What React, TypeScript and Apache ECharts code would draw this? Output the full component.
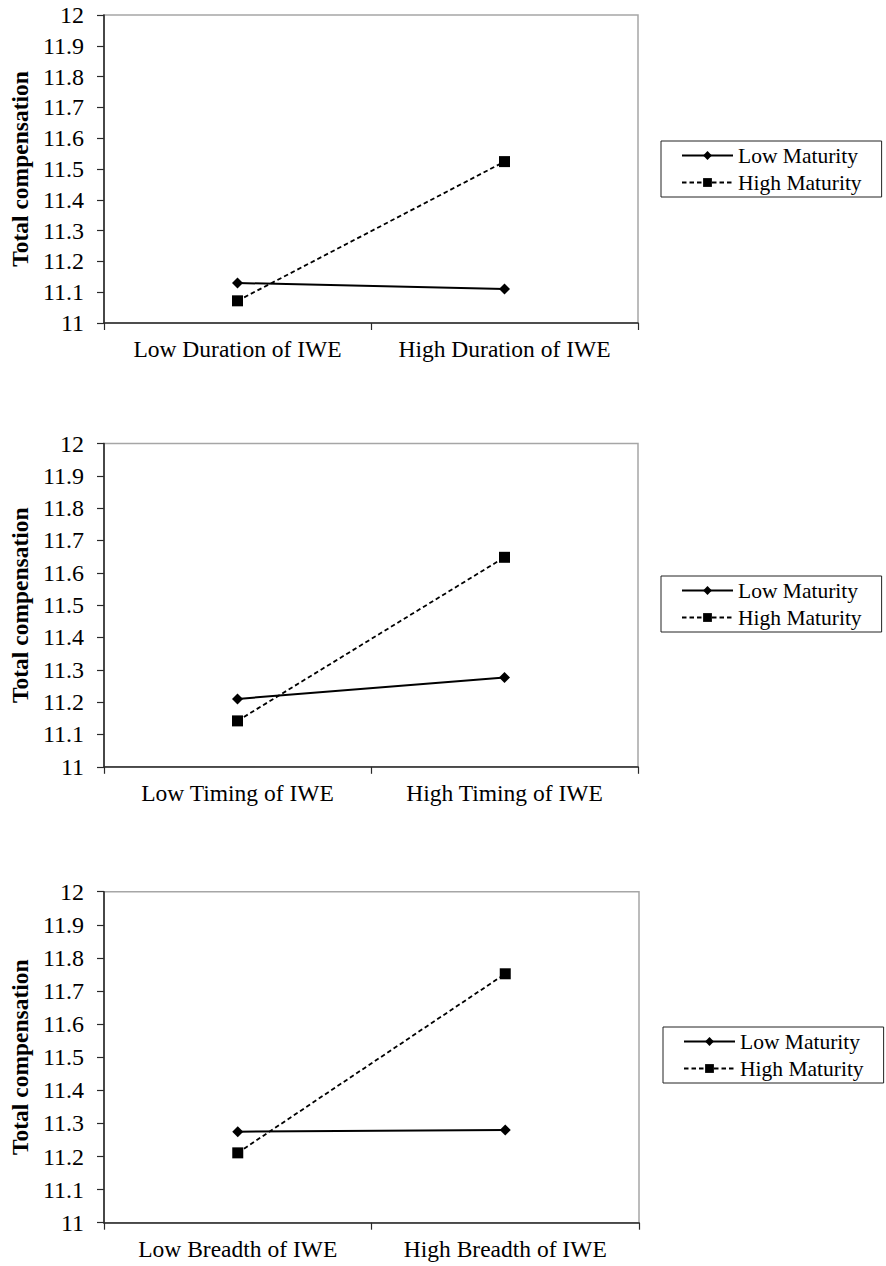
import React, { useEffect, useRef } from "react";
import * as echarts from "echarts";

const categoriesDuration = ["Low Duration of IWE", "High Duration of IWE"];
const categoriesTiming = ["Low Timing of IWE", "High Timing of IWE"];
const categoriesBreadth = ["Low Breadth of IWE", "High Breadth of IWE"];

const lowMaturityDuration = [11.13, 11.11];
const highMaturityDuration = [11.072, 11.524];
const lowMaturityTiming = [11.21, 11.276];
const highMaturityTiming = [11.142, 11.648];
const lowMaturityBreadth = [11.275, 11.28];
const highMaturityBreadth = [11.211, 11.752];

const yMin = 11;
const yMax = 12;
const yInterval = 0.1;
const yTitle = "Total compensation";
const seriesNames = ["Low Maturity", "High Maturity"];

const panels = [
  { cats: categoriesDuration, low: lowMaturityDuration, high: highMaturityDuration },
  { cats: categoriesTiming, low: lowMaturityTiming, high: highMaturityTiming },
  { cats: categoriesBreadth, low: lowMaturityBreadth, high: highMaturityBreadth },
];

const gridBoxes = [
  { left: 97, top: 15, width: 541, height: 308 },
  { left: 96, top: 443.5, width: 542, height: 323.3 },
  { left: 96, top: 891.7, width: 543, height: 331 },
];
const legendBoxes = [
  { left: 661, top: 141 },
  { left: 661, top: 576 },
  { left: 663, top: 1027 },
];

const FONT = "Liberation Serif";

export default function App() {
  const ref = useRef<HTMLDivElement>(null);
  useEffect(() => {
    if (!ref.current) return;
    const chart = echarts.init(ref.current, null, { renderer: "svg" });
    const axisColor = "#2a2a2a";
    const option: any = {
      animation: false,
      backgroundColor: "#fff",
      textStyle: { fontFamily: FONT },
      grid: gridBoxes.map((g) => ({
        ...g,
        show: true,
        borderColor: "#a6a6a6",
        borderWidth: 1.5,
        backgroundColor: "transparent",
      })),
      legend: legendBoxes.map((l) => ({
        ...l,
        orient: "vertical",
        data: seriesNames,
        itemWidth: 51,
        itemHeight: 11,
        itemGap: 5,
        padding: [3.5, 20, 3.5, 20],
        borderColor: "#222",
        borderWidth: 1,
        backgroundColor: "#fff",
        selectedMode: false,
        textStyle: { fontFamily: FONT, fontSize: 21.5, color: "#000", lineHeight: 22 },
      })),
      xAxis: panels.map((p, i) => ({
        type: "category",
        gridIndex: i,
        data: p.cats,
        boundaryGap: true,
        axisLine: { show: true, lineStyle: { color: axisColor, width: 1.6 } },
        axisTick: { show: true, length: 7, alignWithLabel: false, lineStyle: { color: axisColor, width: 1.2 } },
        axisLabel: { color: "#000", fontFamily: FONT, fontSize: 23.5, margin: 14, interval: 0 },
        splitLine: { show: false },
      })),
      yAxis: panels.map((p, i) => ({
        type: "value",
        gridIndex: i,
        min: yMin,
        max: yMax,
        interval: yInterval,
        name: yTitle,
        nameLocation: "middle",
        nameRotate: 90,
        nameGap: 68,
        nameTextStyle: { fontFamily: FONT, fontWeight: "bold", fontSize: 23.5, color: "#000" },
        axisLine: { show: true, lineStyle: { color: axisColor, width: 1.6 } },
        axisTick: { show: true, length: 7, lineStyle: { color: axisColor, width: 1.2 } },
        axisLabel: {
          color: "#000",
          fontFamily: FONT,
          fontSize: 24,
          margin: 20,
          formatter: (v: number) => String(Math.round(v * 10) / 10),
        },
        splitLine: { show: false },
      })),
      series: panels.flatMap((p, i) => [
        {
          name: seriesNames[0],
          type: "line",
          xAxisIndex: i,
          yAxisIndex: i,
          data: p.low,
          symbol: "diamond",
          symbolSize: [11, 11],
          lineStyle: { color: "#000", width: 2, type: "solid" },
          itemStyle: { color: "#000" },
          emphasis: { disabled: true },
        },
        {
          name: seriesNames[1],
          type: "line",
          xAxisIndex: i,
          yAxisIndex: i,
          data: p.high,
          symbol: "rect",
          symbolSize: 11,
          lineStyle: { color: "#000", width: 1.8, type: [4.5, 3] },
          itemStyle: { color: "#000" },
          emphasis: { disabled: true },
        },
      ]),
    };
    chart.setOption(option);
    return () => chart.dispose();
  }, []);
  return (
    <div
      ref={ref}
      style={{ position: "absolute", left: 0, top: 0, width: 886, height: 1266, background: "#fff" }}
    />
  );
}
